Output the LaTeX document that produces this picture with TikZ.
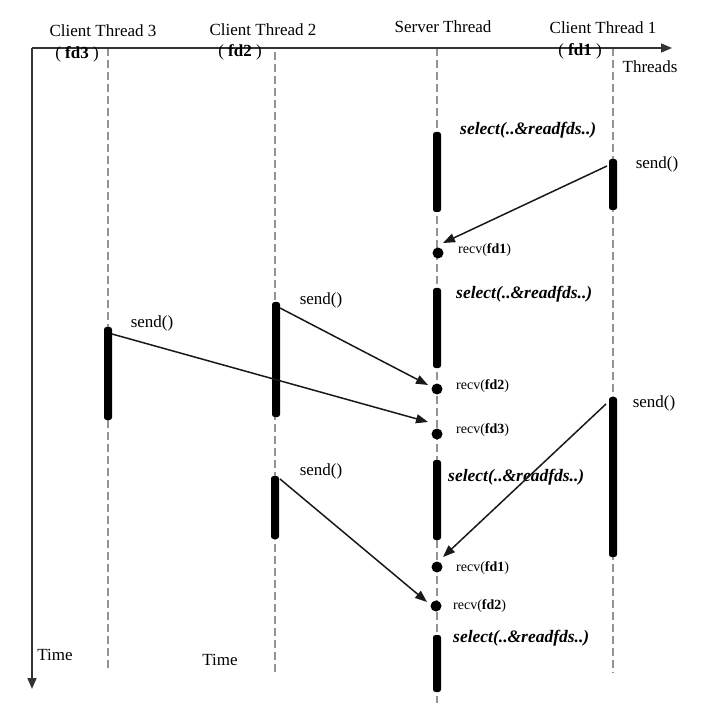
\documentclass[tikz,border=0pt]{standalone}
\usepackage{fontspec}
\setmainfont{Liberation Serif}
\usetikzlibrary{arrows.meta}
\begin{document}
\begin{tikzpicture}[x=1pt,y=-1pt,
 lbl/.style={font=\fontsize{17}{19}\selectfont, inner sep=0pt},
 small/.style={font=\fontsize{14}{16}\selectfont, inner sep=0pt, anchor=west},
 sel/.style={font=\fontsize{17.5}{19}\selectfont\bfseries\itshape, inner sep=0pt, anchor=west},
 life/.style={draw=gray!85, line width=1.8pt, dash pattern=on 8pt off 4pt},
 axis/.style={draw=black!80, line width=1.6pt, -{Triangle[length=11pt,width=9pt]}},
 bar/.style={fill=black, rounded corners=2.5pt, minimum width=8pt, inner sep=0pt, draw=none},
 msg/.style={draw=black!90, line width=1.5pt, -{Triangle[length=12pt,width=9pt]}},
 dot/.style={circle, fill=black, inner sep=0pt, minimum size=11pt}]
\useasboundingbox (0,0) rectangle (715,703);

% lifelines
\coordinate (l3t) at (108,48);  \coordinate (l3b) at (108,668);
\coordinate (l2t) at (275,52);  \coordinate (l2b) at (275,673);
\coordinate (lst) at (437,48);  \coordinate (lsb) at (437,703);
\coordinate (l1t) at (613,48);  \coordinate (l1b) at (613,673);
\draw[life] (l3t) -- (l3b);
\draw[life] (l2t) -- (l2b);
\draw[life] (lst) -- (lsb);
\draw[life] (l1t) -- (l1b);

% axes
\coordinate (o) at (32,48);
\coordinate (xe) at (672,48);
\coordinate (ye) at (32,689);
\draw[axis] (o) -- (xe);
\draw[axis] (o) -- (ye);

% titles
\node[lbl] (t3) at (103,31) {Client Thread 3};
\node[lbl] (f3) at (77,54) {( \textbf{fd3} )};
\node[lbl] (t2) at (263,30) {Client Thread 2};
\node[lbl] (f2) at (240,52) {( \textbf{fd2} )};
\node[lbl] (ts) at (443,27) {Server Thread};
\node[lbl] (t1) at (603,28) {Client Thread 1};
\node[lbl] (f1) at (580,51) {( \textbf{fd1} )};
\node[lbl] (thr) at (650,67) {Threads};
\node[lbl] (time1) at (55,655) {Time};
\node[lbl] (time2) at (220,660) {Time};

% server bars
\node[bar, minimum height=80pt] (sb1) at (437,172) {};
\node[bar, minimum height=80pt] (sb2) at (437,328) {};
\node[bar, minimum height=80pt] (sb3) at (437,500) {};
\node[bar, minimum height=57pt] (sb4) at (437,663.5) {};
% client bars
\node[bar, minimum height=51pt] (c1b1) at (613,184.5) {};
\node[bar, minimum height=160pt] (c1b2) at (613,477) {};
\node[bar, minimum height=115pt] (c2b1) at (276,359.5) {};
\node[bar, minimum height=63pt] (c2b2) at (275,507.5) {};
\node[bar, minimum height=93pt] (c3b1) at (108,373.5) {};

% select labels
\node[sel] (s1) at (460,130) {select(..\&readfds..)};
\node[sel] (s2) at (456,294) {select(..\&readfds..)};
\node[sel] (s3) at (448,477) {select(..\&readfds..)};
\node[sel] (s4) at (453,638) {select(..\&readfds..)};

% send labels
\node[lbl] (se1) at (657,164) {send()};
\node[lbl] (se2) at (321,300) {send()};
\node[lbl] (se3) at (152,323) {send()};
\node[lbl] (se4) at (654,403) {send()};
\node[lbl] (se5) at (321,471) {send()};

% recv dots and labels
\node[dot] (d1) at (438,253) {};
\node[dot] (d2) at (437,389) {};
\node[dot] (d3) at (437,434) {};
\node[dot] (d4) at (437,567) {};
\node[dot] (d5) at (436,606) {};
\node[small] (r1) at (458,250) {recv(\textbf{fd1})};
\node[small] (r2) at (456,386) {recv(\textbf{fd2})};
\node[small] (r3) at (456,430) {recv(\textbf{fd3})};
\node[small] (r4) at (456,568) {recv(\textbf{fd1})};
\node[small] (r5) at (453,606) {recv(\textbf{fd2})};

% messages
\coordinate (a1s) at (607,166); \coordinate (a1e) at (443,243);
\coordinate (a2s) at (280,308); \coordinate (a2e) at (428,385);
\coordinate (a3s) at (112,334); \coordinate (a3e) at (428,422);
\coordinate (a4s) at (606,404); \coordinate (a4e) at (443,557);
\coordinate (a5s) at (280,479); \coordinate (a5e) at (427,602);
\draw[msg] (a1s) -- (a1e);
\draw[msg] (a2s) -- (a2e);
\draw[msg] (a3s) -- (a3e);
\draw[msg] (a4s) -- (a4e);
\draw[msg] (a5s) -- (a5e);
\end{tikzpicture}
\end{document}
